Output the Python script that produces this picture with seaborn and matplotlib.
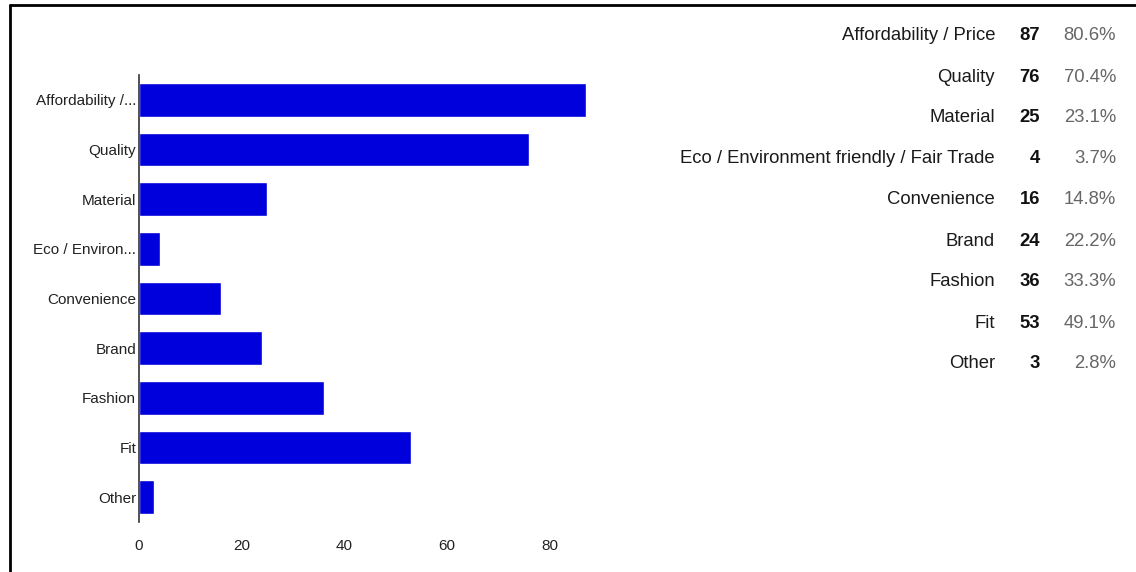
import numpy as np
import pandas as pd
import matplotlib
matplotlib.use("Agg")
import matplotlib.pyplot as plt
from matplotlib.lines import Line2D
import seaborn as sns

categories = ["Affordability / Price", "Quality", "Material",
              "Eco / Environment friendly / Fair Trade", "Convenience",
              "Brand", "Fashion", "Fit", "Other"]
tick_labels = ["Affordability /...", "Quality", "Material", "Eco / Environ...",
               "Convenience", "Brand", "Fashion", "Fit", "Other"]
counts = [87, 76, 25, 4, 16, 24, 36, 53, 3]
percents = ["80.6%", "70.4%", "23.1%", "3.7%", "14.8%", "22.2%", "33.3%", "49.1%", "2.8%"]

df = pd.DataFrame({"category": categories, "count": counts})

sns.set_style("white")
plt.rcParams['font.family'] = ['Liberation Sans Narrow', 'Liberation Sans', 'DejaVu Sans']

W, H = 1136, 572
fig = plt.figure(figsize=(W / 100, H / 100), dpi=100)
ax = fig.add_axes([139 / W, 1 - 522 / H, 462 / W, 447 / H])

sns.barplot(data=df, x="count", y="category", orient="h", color="#0000DD",
            saturation=1, width=0.68, ax=ax)

ax.set_xlim(0, 90)
ax.set_ylim(len(categories) - 0.5, -0.5)
ax.set_xticks([0, 20, 40, 60, 80])
ax.set_yticks(range(len(categories)))
ax.set_yticklabels(tick_labels)
ax.set_xlabel("")
ax.set_ylabel("")
ax.tick_params(axis="both", length=0, labelsize=11, colors="#222222")
ax.tick_params(axis="y", pad=2)
ax.tick_params(axis="x", pad=12)
for s in ["top", "right", "bottom"]:
    ax.spines[s].set_visible(False)
ax.spines["left"].set_color("#333333")
ax.spines["left"].set_linewidth(1.2)

# summary table on the right
row0, step = 36, 41.0
for i, (cat, c, p) in enumerate(zip(categories, counts, percents)):
    y = 1 - (row0 + i * step) / H
    fig.text(995 / W, y, cat, ha="right", va="center", fontsize=13.3, color="#1a1a1a")
    fig.text(1040 / W, y, str(c), ha="right", va="center", fontsize=13.3,
             fontweight="bold", color="#111111")
    fig.text(1116 / W, y, p, ha="right", va="center", fontsize=13.3, color="#666666")

# screenshot frame
fig.add_artist(Line2D([10 / W, 1], [1 - 5 / H, 1 - 5 / H], color="black", lw=2))
fig.add_artist(Line2D([10 / W, 10 / W], [0, 1 - 5 / H], color="black", lw=2))

fig.savefig("out.png", dpi=100)
